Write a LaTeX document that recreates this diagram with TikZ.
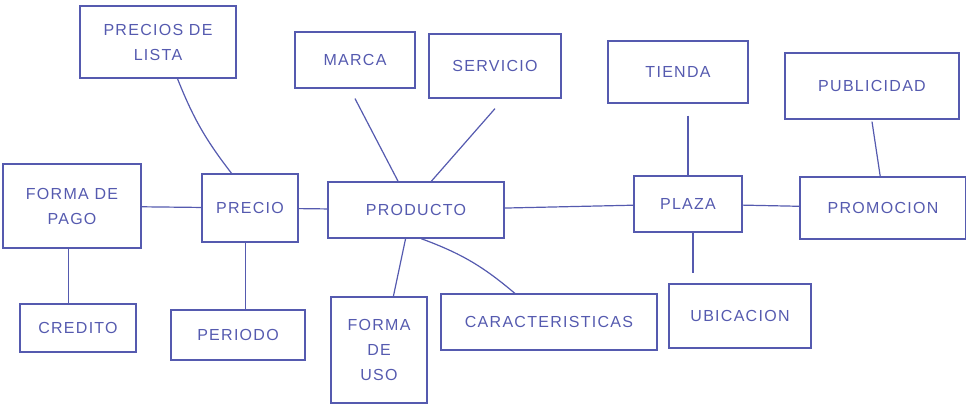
\documentclass[tikz,border=0pt]{standalone}
\usepackage{fontspec}
\setmainfont{Liberation Sans}[LetterSpace=8]
\usepackage{xcolor}
\usepackage{tikz}
\definecolor{tinta}{RGB}{85,90,175}

\begin{document}
\begin{tikzpicture}[x=1pt,y=-1pt,
	caja/.style={draw=tinta, line width=1.2pt, text=tinta, align=center, inner sep=0pt, font=\fontsize{16}{25}\selectfont},
	linea/.style={draw=tinta, line width=1.2pt}]
			\useasboundingbox (0,0) rectangle (966,408);
			% fila de arriba
			\node[caja, minimum width=156, minimum height=72] (lista) at (158,42) {PRECIOS DE\\LISTA};
			\node[caja, minimum width=120, minimum height=56] (marca) at (355,60) {MARCA};
			\node[caja, minimum width=132, minimum height=64] (servicio) at (495,66) {SERVICIO};
			\node[caja, minimum width=140, minimum height=62] (tienda) at (678,72) {TIENDA};
			\node[caja, minimum width=174, minimum height=66] (publicidad) at (872,86) {PUBLICIDAD};
			% fila del medio
			\node[caja, minimum width=138, minimum height=84] (formapago) at (72,206) {FORMA DE\\PAGO};
			\node[caja, minimum width=96, minimum height=68] (precio) at (250,208) {PRECIO};
			\node[caja, minimum width=176, minimum height=56] (producto) at (416,210) {PRODUCTO};
			\node[caja, minimum width=108, minimum height=56] (plaza) at (688,204) {PLAZA};
			\node[caja, minimum width=166, minimum height=62] (promocion) at (883,208) {PROMOCION};
			% fila de abajo
			\node[caja, minimum width=116, minimum height=48] (credito) at (78,328) {CREDITO};
			\node[caja, minimum width=134, minimum height=50] (periodo) at (238,335) {PERIODO};
			\node[caja, minimum width=96, minimum height=106] (formauso) at (379,350) {FORMA\\DE\\USO};
			\node[caja, minimum width=216, minimum height=56] (caracteristicas) at (549,322) {CARACTERISTICAS};
			\node[caja, minimum width=142, minimum height=64] (ubicacion) at (740,316) {UBICACION};
			% conectores
			\draw[linea] (lista.-62) to[bend right=8] (precio.118);
			\draw[linea] ([yshift=-10pt]marca.south) to (producto.122);
			\draw[linea] ([yshift=-10pt]servicio.south) to (producto.62);
			\draw[linea] ([yshift=-12pt]tienda.south -| plaza.north) -- (plaza.north);
			\draw[linea] ([yshift=-2pt]publicidad.south) -- (promocion.95);
			\draw[linea] (formapago) -- (precio);
			\draw[linea] (precio) -- (producto);
			\draw[linea] (producto) -- (plaza);
			\draw[linea] (plaza) -- (promocion);
			\draw[linea] (formapago.-95) -- (credito.north -| formapago.-95);
			\draw[linea] (precio.-97) -- (periodo.north -| precio.-97);
			\draw[linea] (producto.-110) -- (formauso.75);
			\draw[linea] (producto.-80) to[bend left=10] (caracteristicas.140);
			\draw[linea] (plaza.-80) -- ([yshift=10pt]ubicacion.north -| plaza.-80);
		\end{tikzpicture}
\end{document}
